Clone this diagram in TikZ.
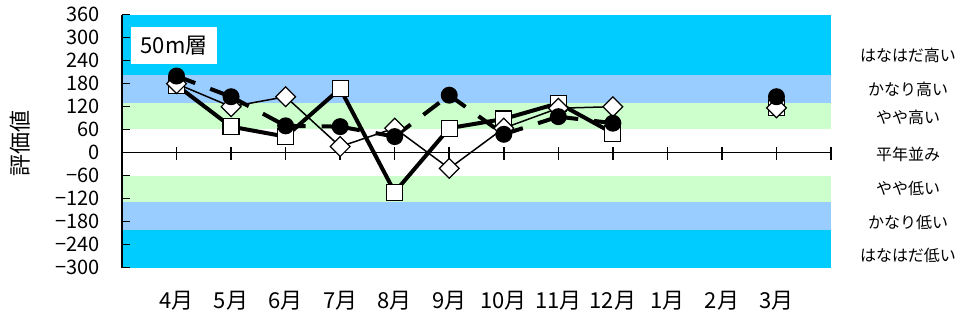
\documentclass[tikz,border=0pt]{standalone}
\usepackage{fontspec}
\setmainfont{Noto Sans CJK JP}
\usepackage{tikz}
\definecolor{bandhi}{HTML}{00CCFF}
\definecolor{bandmid}{HTML}{99CCFF}
\definecolor{bandlo}{HTML}{CCFFCC}
\tikzset{
  sqmark/.style={draw, fill=white, line width=1.2pt, minimum size=16pt, inner sep=0pt},
  dimark/.style={draw, fill=white, line width=1.2pt, minimum size=14pt, inner sep=0pt, rotate=45},
  cimark/.style={circle, fill=black, minimum size=17pt, inner sep=0pt},
  sqline/.style={line width=4pt, line join=round},
  diline/.style={line width=1.5pt, line join=round},
  ciline/.style={line width=4pt, dash pattern=on 20pt off 16pt},
  axisline/.style={line width=1.5pt},
  ticklab/.style={anchor=east, inner sep=0pt, font=\fontsize{20}{20}\selectfont},
  monlab/.style={inner sep=0pt, font=\fontsize{22}{22}\selectfont},
  ranklab/.style={inner sep=0pt, font=\fontsize{16}{16}\selectfont}
}
\begin{document}
\begin{tikzpicture}[x=1pt, y=1pt]
\useasboundingbox (0,0) rectangle (960,320);
\fill[white] (0,0) rectangle (960,320);
\begin{scope}[xshift=122pt, yshift=167.3pt, x=54.54pt, y=0.3833pt]
%Bands
\fill[bandhi] (0,202) rectangle (13,360);
\fill[bandmid] (0,129) rectangle (13,202);
\fill[bandlo] (0,61) rectangle (13,129);
\fill[bandlo] (0,-61) rectangle (13,-129);
\fill[bandmid] (0,-129) rectangle (13,-202);
\fill[bandhi] (0,-202) rectangle (13,-300);
%Axes
\draw[axisline] (0,-300) -- (0,360);
\foreach \v in {-300,-240,...,360} \draw[axisline] (0,\v) -- ++(8pt,0);
\draw[axisline] (0,0) -- (13,0);
\foreach \k in {1,...,13} \draw[axisline] (\k,0) ++(0,-7pt) -- ++(0,13pt);
\foreach \v/\t [count=\i] in {360/360,300/300,240/240,180/180,120/120,60/60,0/0,-60/−60,-120/−120,-180/−180,-240/−240,-300/−300}
  \node[ticklab] (ylab\i) at ([xshift=-22pt]0,\v) {\t};
\foreach \m [count=\k] in {4月,5月,6月,7月,8月,9月,10月,11月,12月,1月,2月,3月}
  \node[monlab] (mon\k) at (\k,-387) {\m};
%Data
\coordinate (s1) at (1,176); \coordinate (s2) at (2,68); \coordinate (s3) at (3,42);
\coordinate (s4) at (4,167); \coordinate (s5) at (5,-103); \coordinate (s6) at (6,64);
\coordinate (s7) at (7,88); \coordinate (s8) at (8,129); \coordinate (s9) at (9,51);
\coordinate (s12) at (12,117);
\coordinate (d1) at (1,180); \coordinate (d2) at (2,120); \coordinate (d3) at (3,146);
\coordinate (d4) at (4,16); \coordinate (d5) at (5,64); \coordinate (d6) at (6,-41);
\coordinate (d7) at (7,64); \coordinate (d8) at (8,116); \coordinate (d9) at (9,120);
\coordinate (d12) at (12,117);
\coordinate (c1) at (1,200); \coordinate (c2) at (2,146); \coordinate (c3) at (3,70);
\coordinate (c4) at (4,68); \coordinate (c5) at (5,42); \coordinate (c6) at (6,150);
\coordinate (c7) at (7,48); \coordinate (c8) at (8,94); \coordinate (c9) at (9,77);
\coordinate (c12) at (12,146);
\draw[sqline] (s1) -- (s2) -- (s3) -- (s4) -- (s5) -- (s6) -- (s7) -- (s8) -- (s9);
\draw[diline] (d1) -- (d2) -- (d3) -- (d4) -- (d5) -- (d6) -- (d7) -- (d8) -- (d9);
\draw[ciline] (c1) edge (c2) (c2) edge (c3) (c3) edge (c4) (c4) edge (c5)
  (c5) edge (c6) (c6) edge (c7) (c7) edge (c8) (c8) edge (c9);
\foreach \i in {1,...,9,12} \node[sqmark] (S\i) at (s\i) {};
\foreach \i in {1,...,9,12} \node[dimark] (D\i) at (d\i) {};
\foreach \i in {1,...,9,12} \node[cimark] (C\i) at (c\i) {};
\end{scope}
%Text
\node[fill=white, minimum width=86pt, minimum height=37pt, inner sep=0pt, font=\fontsize{22}{22}\selectfont] (layer) at (174,274.5) {50m層};
\node[rotate=90, inner sep=0pt, font=\fontsize{22}{22}\selectfont] (ytitle) at (20,176) {評価値};
\node[ranklab] (r1) at (908,265) {はなはだ高い};
\node[ranklab] (r2) at (908,231) {かなり高い};
\node[ranklab] (r3) at (908,203) {やや高い};
\node[ranklab] (r4) at (908,166) {平年並み};
\node[ranklab] (r5) at (908,132) {やや低い};
\node[ranklab] (r6) at (908,98) {かなり低い};
\node[ranklab] (r7) at (908,65) {はなはだ低い};
\end{tikzpicture}
\end{document}
